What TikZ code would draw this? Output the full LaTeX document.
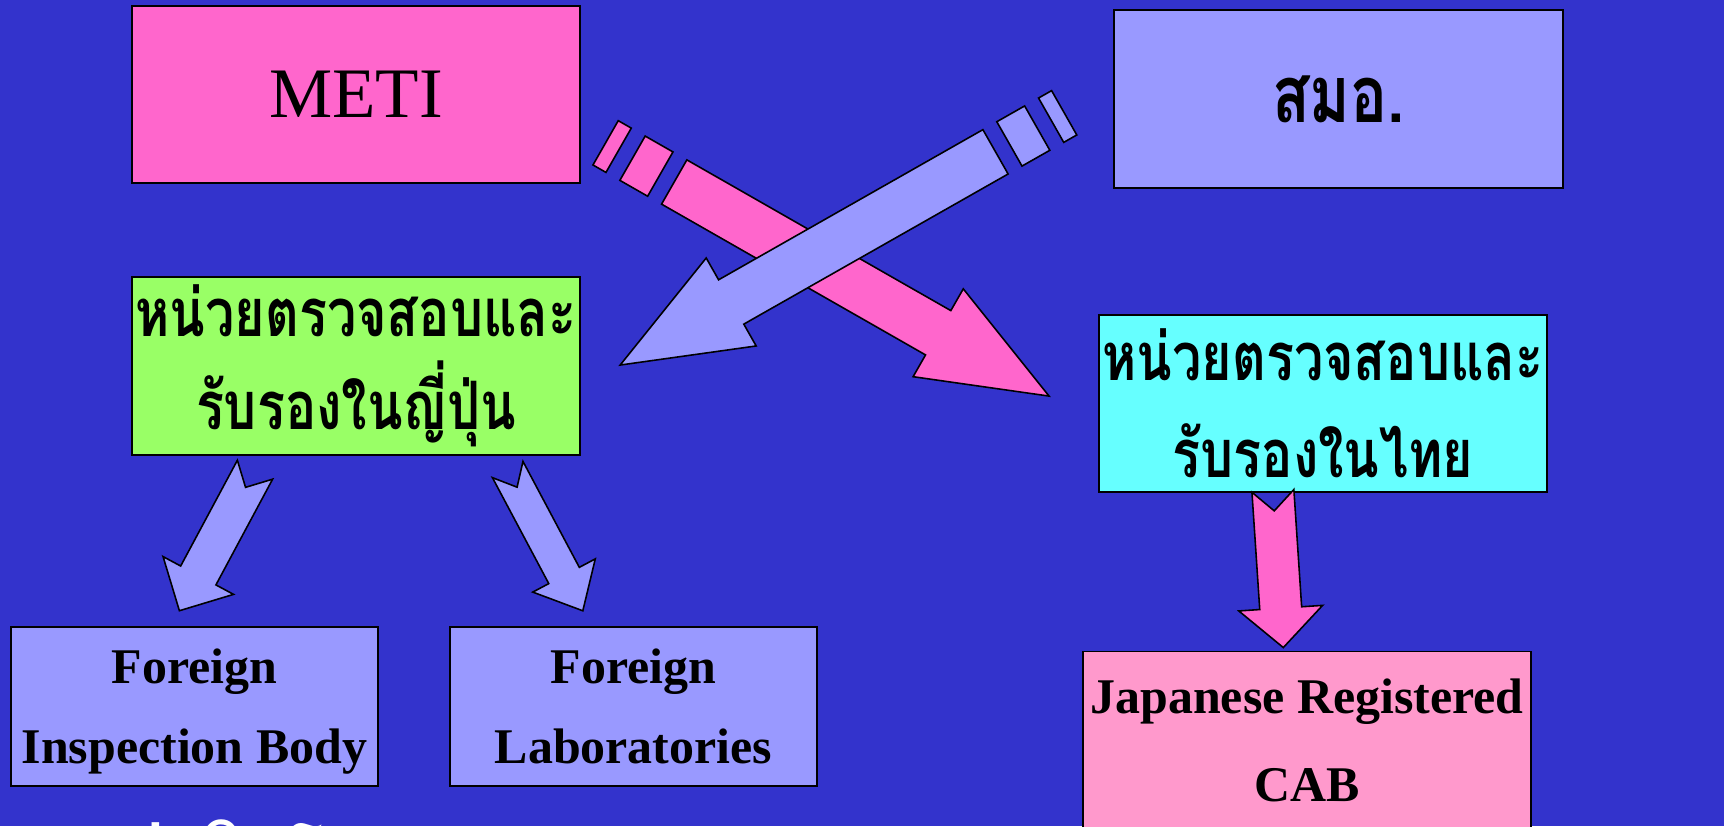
\documentclass[tikz,border=0pt]{standalone}
\usepackage{fontspec}
\setmainfont{Liberation Serif}
\newfontfamily\thaifont[Script=Thai, FakeStretch=0.78]{Loma}
\newfontfamily\thainote[Script=Thai]{Loma}
\usepackage{tikz}
\usetikzlibrary{positioning,calc}

\definecolor{bgblue}{HTML}{3333CC}
\definecolor{metipink}{HTML}{FF66CC}
\definecolor{lilac}{HTML}{9999FF}
\definecolor{lime}{HTML}{99FF66}
\definecolor{aqua}{HTML}{66FFFF}
\definecolor{rose}{HTML}{FF99CC}

% notched block arrow: style, tail, angle, length, head base, shaft half, head half, notch
\newcommand{\notcharrow}[8]{%
  \draw[#1, shift={(#2)}, rotate=#3] (0,-#6) -- (#5,-#6) -- (#5,-#7) -- (#4,0)
    -- (#5,#7) -- (#5,#6) -- (0,#6) -- (#8,0) -- cycle;}
% striped block arrow: style, tail, angle
\newcommand{\stripearrow}[3]{%
  \begin{scope}[shift={(#2)}, rotate=#3]
    \draw[#1] (-79,-25.5) -- (-64,-25.5) -- (-64,25.5) -- (-79,25.5) -- cycle;
    \draw[#1] (-48,-25.5) -- (-16,-25.5) -- (-16,25.5) -- (-48,25.5) -- cycle;
    \draw[#1] (0,-25.5) -- (304,-25.5) -- (304,-50.6) -- (431.7,0) -- (304,50.6)
      -- (304,25.5) -- (0,25.5) -- cycle;
  \end{scope}}

\tikzset{
  box/.style={draw=black, line width=0.55pt, shape=rectangle, inner sep=0pt, align=center},
  bigbox/.style={box, minimum width=4.48cm, minimum height=1.77cm},
  smallbox/.style={box, minimum width=3.67cm, minimum height=1.59cm, text depth=0pt},
  thaitext/.style={font=\thaifont\bfseries\fontsize{19pt}{26.5pt}\selectfont},
  engtext/.style={font=\bfseries\fontsize{14.2pt}{22.8pt}\selectfont},
  blockarrow/.style={draw=black, line width=0.45pt, line join=miter}
}

\begin{document}
\begin{tikzpicture}[x=0.01cm, y=-0.01cm]

\useasboundingbox (0,0) rectangle (1724,826);
\clip (0,0) rectangle (1724,826);
\fill[bgblue] (0,0) rectangle (1724,826);

% top row
\path (356, 94.5) node[bigbox, fill=metipink, font=\fontsize{20.2pt}{24pt}\selectfont] (meti) {METI};
\path (1338.5, 99) node[bigbox, fill=lilac, font=\thaifont\bfseries\fontsize{22.5pt}{26pt}\selectfont] (smo) {สมอ.};

% middle row
\path (356, 366) node[bigbox, fill=lime, thaitext] (cabjp) {หน่วยตรวจสอบและ\\รับรองในญี่ปุ่น};
\path (1323, 403.5) node[bigbox, fill=aqua, thaitext, font=\thaifont\bfseries\fontsize{19pt}{27.6pt}\selectfont] (cabth) {หน่วยตรวจสอบและ\\รับรองในไทย};

% bottom row
\path (194.5, 706.5) node[smallbox, fill=lilac, engtext] (fib) {Foreign\\Inspection Body};
\path (633.5, 706.5) node[smallbox, fill=lilac, engtext] (flab) {Foreign\\Laboratories};
\path (1307, 740) node[bigbox, fill=rose, font=\bfseries\fontsize{14.2pt}{25pt}\selectfont] (jrcab) {Japanese Registered\\CAB};

% note under the boxes, cut by the edge
\path (65, 874) node[anchor=base west, text=white, font=\thainote\bfseries\fontsize{19pt}{26.5pt}\selectfont] (note) {แต่ผลิตโดย};

% arrow tails
\coordinate (metiout) at (674.2, 182);
\coordinate (smoout) at (995.5, 151.8);
\coordinate (fibout) at (255, 469.7);
\coordinate (flabout) at (507.7, 469.5);
\coordinate (thout) at (1272.9, 490.9);

% crossing arrows
\stripearrow{blockarrow, fill=metipink}{metiout}{-29.73}
\stripearrow{blockarrow, fill=lilac}{smoout}{209.6}

% arrows down
\notcharrow{blockarrow, fill=lilac}{fibout}{241.8}{160}{120}{20}{40}{20}
\notcharrow{blockarrow, fill=lilac}{flabout}{-62}{160}{120}{17.3}{35.4}{20}
\notcharrow{blockarrow, fill=metipink}{thout}{-86.2}{157}{117.5}{21}{42}{20}
\end{tikzpicture}
\end{document}
